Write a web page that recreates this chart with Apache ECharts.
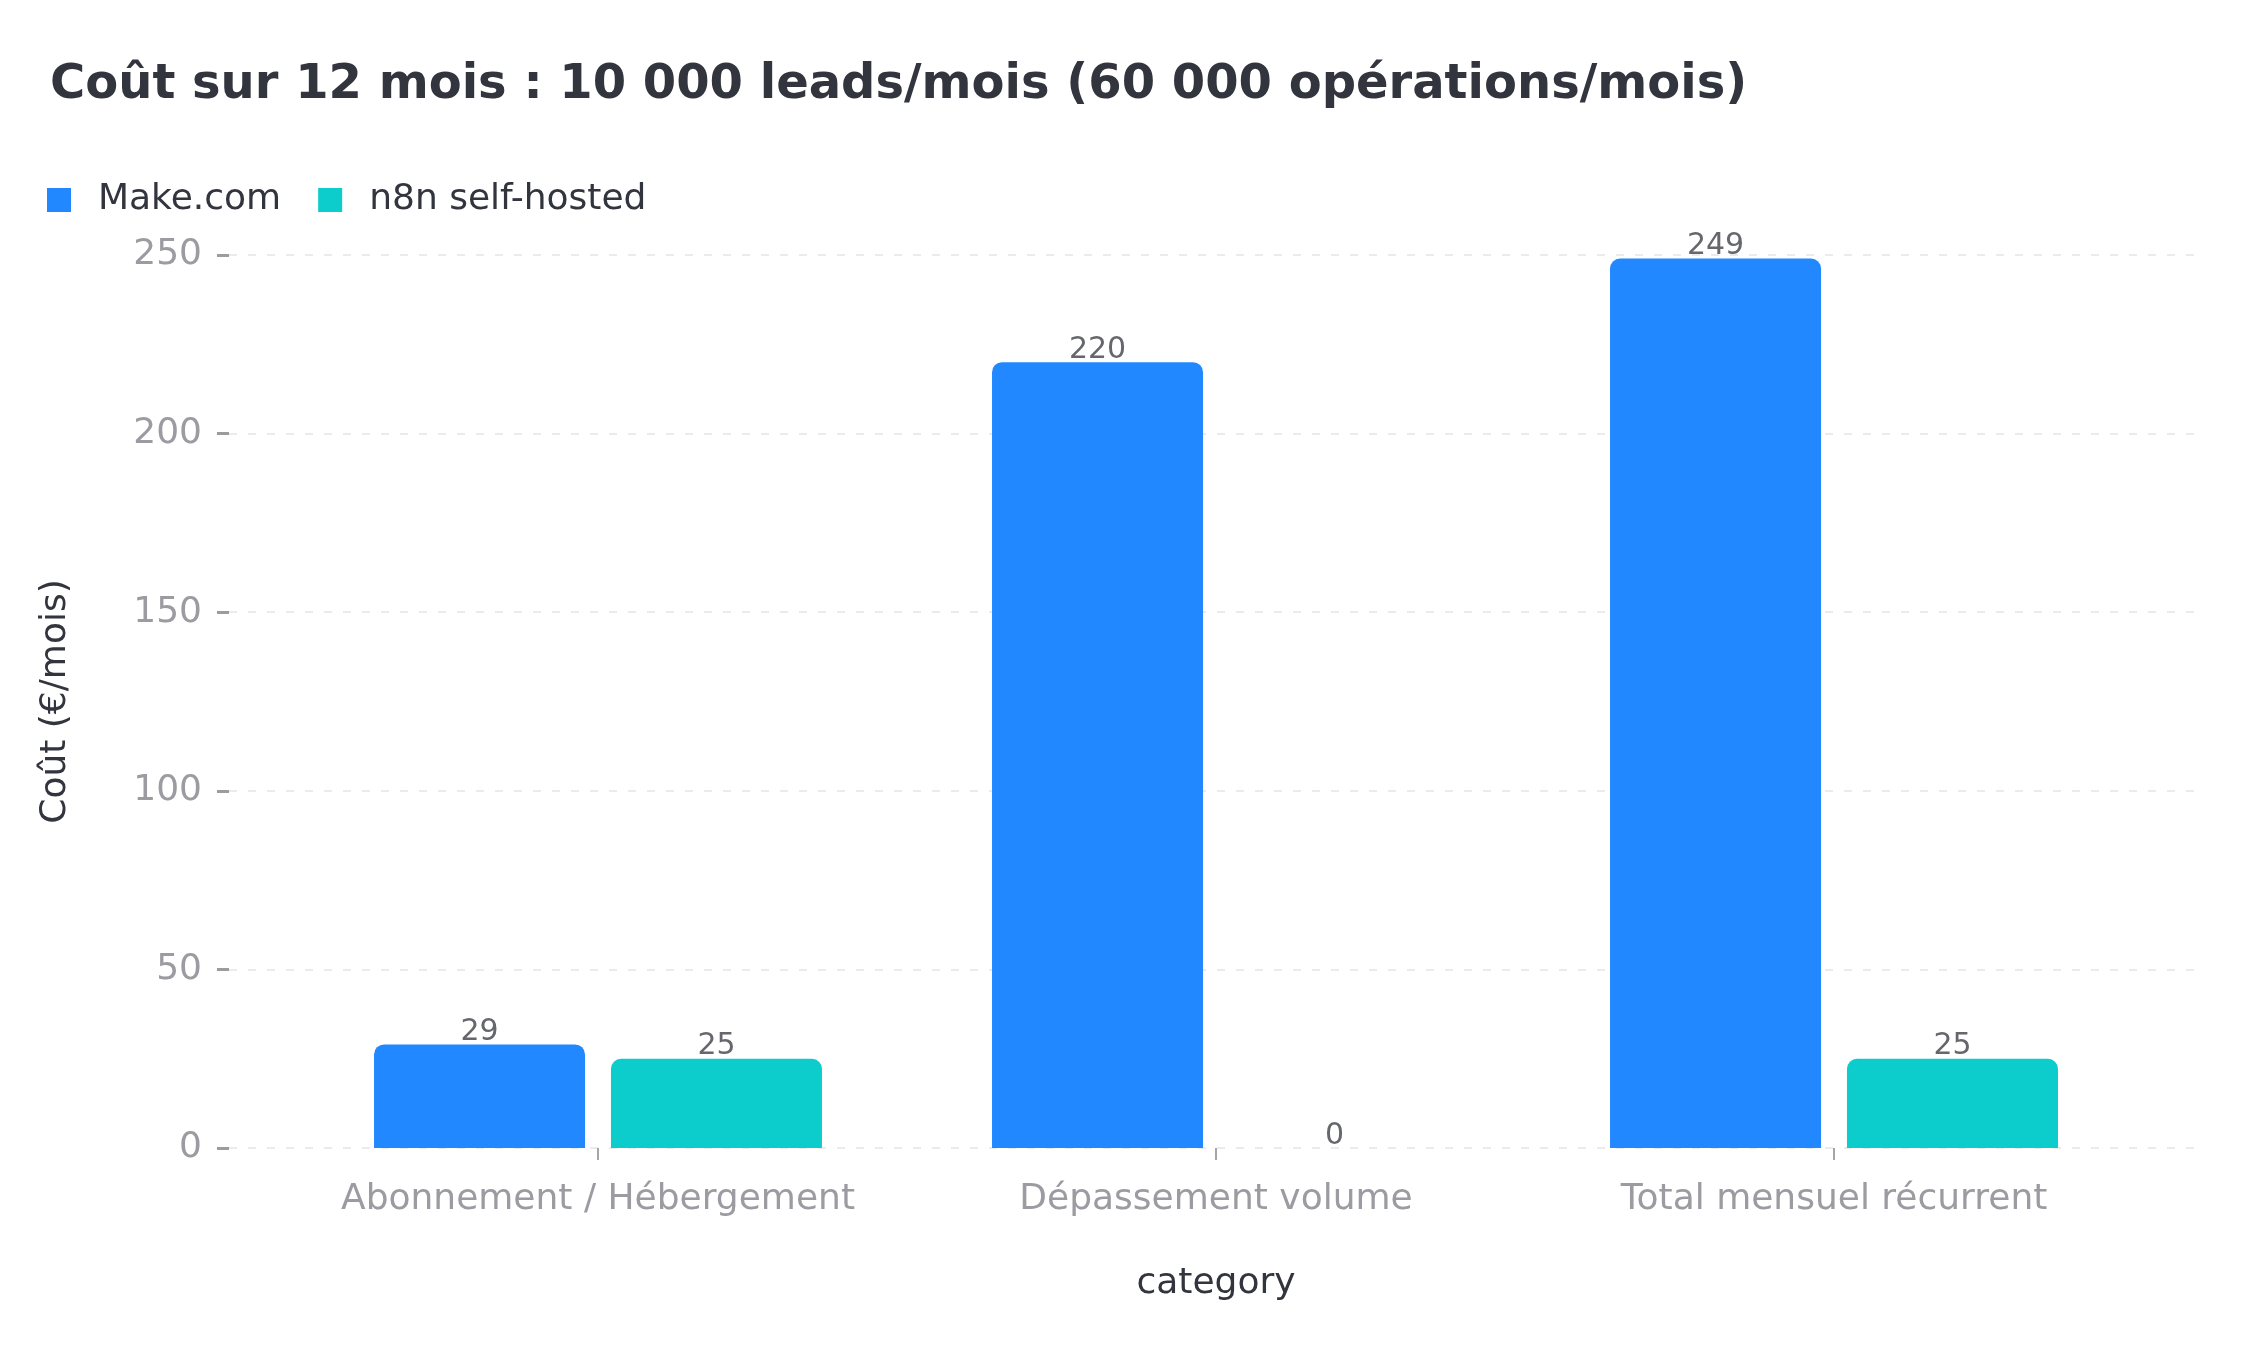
<!DOCTYPE html>
<html>
<head>
<meta charset="utf-8">
<title>Coût sur 12 mois</title>
<style>
	html, body { margin: 0; padding: 0; background: #fff; }
	#main { width: 2250px; height: 1350px; }
</style>
</head>
<body>
<div id="main"></div>
<script src="https://cdn.jsdelivr.net/npm/echarts@6/dist/echarts.min.js"></script>
<script>
	// données
	var categories = ['Abonnement / Hébergement', 'Dépassement volume', 'Total mensuel récurrent'];
	var makeCom = [29, 220, 249];
	var n8nSelfHosted = [25, 0, 25];
	var yTicks = {min: 0, max: 250, interval: 50};

	var font = 'DejaVu Sans';
	var grey = '#9b9ba1';
	var dark = '#33353e';

	var chart = echarts.init(document.getElementById('main'));

	function barSerie(name, data, color) {
		return {
			name: name,
			type: 'bar',
			xAxisIndex: 1,
			yAxisIndex: 1,
			data: data,
			barWidth: 211,
			barGap: '12.3%',
			itemStyle: { color: color, borderRadius: [10, 10, 0, 0] },
			label: {
				show: true,
				position: 'top',
				distance: -3,
				color: '#66676d',
				fontFamily: font,
				fontSize: 30
			}
		};
	}

	chart.setOption({
		backgroundColor: '#fff',
		title: {
			text: 'Coût sur 12 mois : 10 000 leads/mois (60 000 opérations/mois)',
			left: 45,
			top: 57,
			textStyle: { color: dark, fontFamily: font, fontSize: 48, fontWeight: 'bold' }
		},
		legend: {
			left: 42,
			top: 177,
			icon: 'rect',
			itemWidth: 24,
			itemHeight: 24,
			itemGap: 37,
			textStyle: { color: dark, fontFamily: font, fontSize: 36, padding: [0, 0, 0, 22] },
			data: ['Make.com', 'n8n self-hosted']
		},
		// grille 0 : lignes de fond et axe Y ; grille 1 : les barres
		grid: [
			{ left: 229, right: 48, top: 255, bottom: 202 },
			{ left: 289, right: 107, top: 255, bottom: 202 }
		],
		xAxis: [
			{ gridIndex: 0, type: 'value', show: false, min: 0, max: 1 },
			{
				gridIndex: 1,
				type: 'category',
				data: categories,
				name: 'category',
				nameLocation: 'middle',
				nameGap: 118,
				nameTextStyle: { color: dark, fontFamily: font, fontSize: 36 },
				axisLine: { show: false },
				axisTick: { show: true, interval: 0, alignWithLabel: true, length: 12, lineStyle: { color: '#a5a5aa', width: 2 } },
				axisLabel: { interval: 0, color: grey, fontFamily: font, fontSize: 36, margin: 34 }
			}
		],
		yAxis: [
			{
				gridIndex: 0,
				type: 'value',
				min: yTicks.min,
				max: yTicks.max,
				interval: yTicks.interval,
				name: 'Coût (€/mois)',
				nameLocation: 'middle',
				nameGap: 155,
				nameTextStyle: { color: dark, fontFamily: font, fontSize: 36 },
				axisLine: { show: false },
				axisTick: { show: true, length: 12, lineStyle: { color: '#9b9ba1', width: 3 } },
				axisLabel: { color: grey, fontFamily: font, fontSize: 36, margin: 27 },
				splitLine: { show: true, lineStyle: { color: '#ebebeb', width: 2, type: [8, 11] } }
			},
			{
				gridIndex: 1,
				type: 'value',
				min: yTicks.min,
				max: yTicks.max,
				interval: yTicks.interval,
				show: false,
				splitLine: { show: false }
			}
		],
		series: [
			barSerie('Make.com', makeCom, '#2288ff'),
			barSerie('n8n self-hosted', n8nSelfHosted, '#0ccdcb')
		]
	});
</script>
</body>
</html>
